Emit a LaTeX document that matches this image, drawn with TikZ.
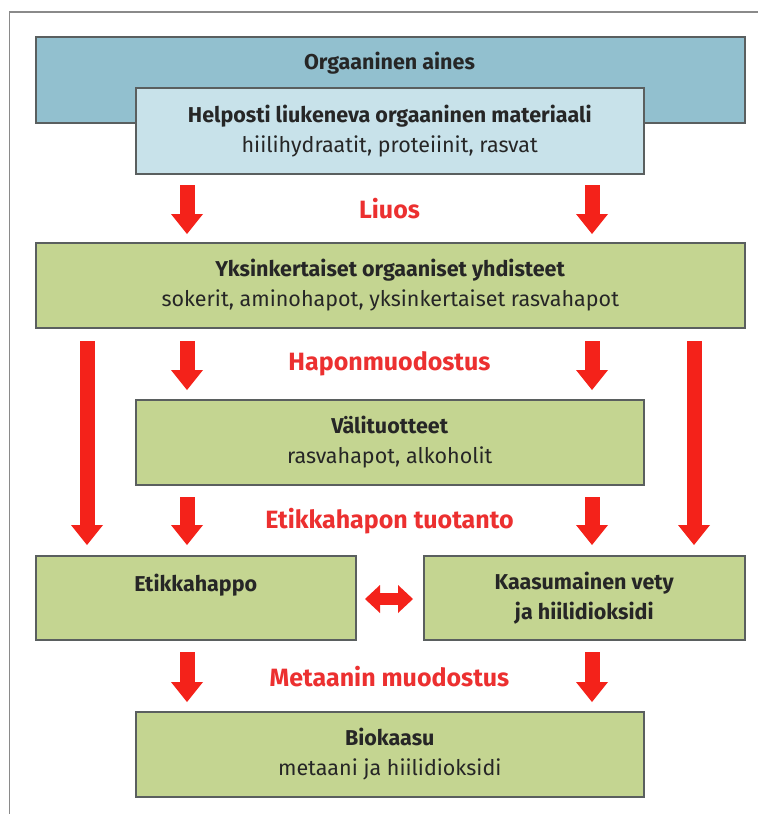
\documentclass[tikz,border=0pt]{standalone}
\usepackage{fontspec}
\setmainfont{Fira Sans}
\usetikzlibrary{arrows.meta}
\definecolor{framegray}{HTML}{8A8A8A}
\definecolor{bluefill}{HTML}{92C0CF}
\definecolor{lightfill}{HTML}{C8E2EA}
\definecolor{greenfill}{HTML}{C4D591}
\definecolor{boxline}{HTML}{5A5F5F}
\definecolor{arrowred}{HTML}{F4221A}
\definecolor{labelred}{HTML}{EC3030}
\definecolor{ink}{HTML}{262626}
\begin{document}
\begin{tikzpicture}[x=1pt,y=-1pt,
  boxbase/.style={draw=boxline, line width=1.5pt, anchor=north west, inner sep=0pt,
    align=center, text=ink, font=\fontsize{21.5}{30}\selectfont},
  bluebox/.style={boxbase, fill=bluefill},
  lightbox/.style={boxbase, fill=lightfill},
  greenbox/.style={boxbase, fill=greenfill},
  steplabel/.style={text=labelred, font=\fontsize{25}{28}\selectfont\bfseries, inner sep=0pt},
  redarrow/.style={draw=arrowred, line width=15pt,
    -{Triangle[width=32pt,length=20pt,line width=0pt]}},
  dblarrow/.style={draw=arrowred, line width=12pt,
    {Triangle[width=28pt,length=15pt,line width=0pt]}-{Triangle[width=28pt,length=15pt,line width=0pt]}}
]
\useasboundingbox (0,0) rectangle (758,814);
\fill[white] (0,0) rectangle (758,814);
\draw[framegray, line width=1.5pt] (9.5,814) -- (9.5,12) -- (758,12);

% boxes
\node[bluebox, minimum width=709pt, minimum height=86pt] (organic) at (35,36) {};
\node[text=ink, font=\fontsize{21.5}{30}\selectfont\bfseries, inner sep=0pt] (organictxt) at (389.5,63) {Orgaaninen aines};
\node[lightbox, minimum width=508pt, minimum height=86pt] (soluble) at (135,87)
  {\textbf{Helposti liukeneva orgaaninen materiaali}\\hiilihydraatit, proteiinit, rasvat};
\node[greenbox, minimum width=709pt, minimum height=85pt] (simple) at (35,242)
  {\textbf{Yksinkertaiset orgaaniset yhdisteet}\\sokerit, aminohapot, yksinkertaiset rasvahapot};
\node[greenbox, minimum width=508pt, minimum height=85pt] (inter) at (135,399)
  {\textbf{Välituotteet}\\rasvahapot, alkoholit};
\node[greenbox, minimum width=320pt, minimum height=84pt] (acetic) at (35,555)
  {\textbf{Etikkahappo}\\\mbox{}};
\node[greenbox, minimum width=321pt, minimum height=84pt] (hydrogen) at (423,555)
  {\textbf{Kaasumainen vety}\\\textbf{ja hiilidioksidi}};
\node[greenbox, minimum width=508pt, minimum height=85pt] (biogas) at (135,711)
  {\textbf{Biokaasu}\\metaani ja hiilidioksidi};

% step labels
\node[steplabel] (liuos) at (389.5,209) {Liuos};
\node[steplabel] (hapon) at (389.5,364) {Haponmuodostus};
\node[steplabel] (etikka) at (389.5,521) {Etikkahapon tuotanto};
\node[steplabel] (metaani) at (389.5,677) {Metaanin muodostus};

% arrow end points
\coordinate (a1s) at (187,185); \coordinate (a1e) at (187,234);
\coordinate (a2s) at (592,185); \coordinate (a2e) at (592,234);
\coordinate (b1s) at (187,341); \coordinate (b1e) at (187,390);
\coordinate (b2s) at (592,341); \coordinate (b2e) at (592,390);
\coordinate (c1s) at (187,497); \coordinate (c1e) at (187,545);
\coordinate (c2s) at (592,497); \coordinate (c2e) at (592,545);
\coordinate (l1s) at (87,341); \coordinate (l1e) at (87,545);
\coordinate (l2s) at (694,341); \coordinate (l2e) at (694,545);
\coordinate (d1s) at (187,652); \coordinate (d1e) at (187,702);
\coordinate (d2s) at (592,652); \coordinate (d2e) at (592,702);
\coordinate (xl) at (365,599); \coordinate (xr) at (413,599);

\draw[redarrow] (a1s) -- (a1e);
\draw[redarrow] (a2s) -- (a2e);
\draw[redarrow] (b1s) -- (b1e);
\draw[redarrow] (b2s) -- (b2e);
\draw[redarrow] (c1s) -- (c1e);
\draw[redarrow] (c2s) -- (c2e);
\draw[redarrow] (l1s) -- (l1e);
\draw[redarrow] (l2s) -- (l2e);
\draw[redarrow] (d1s) -- (d1e);
\draw[redarrow] (d2s) -- (d2e);
\draw[dblarrow] (xl) -- (xr);
\end{tikzpicture}
\end{document}
